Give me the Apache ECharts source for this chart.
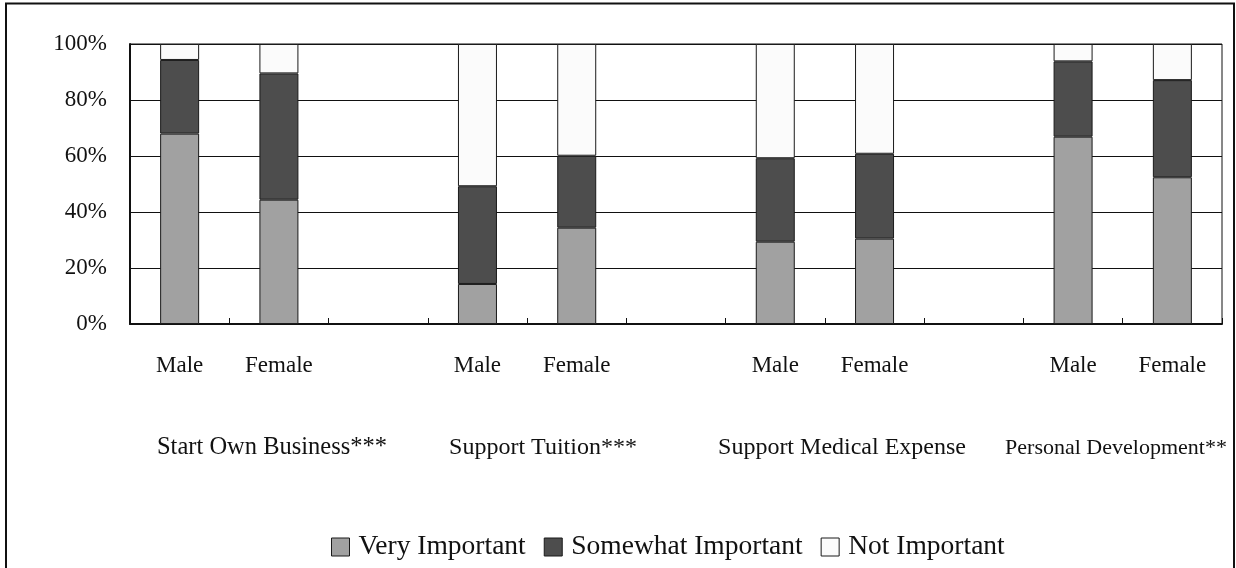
<!DOCTYPE html>
<html>
<head>
<meta charset="utf-8">
<script src="https://cdn.jsdelivr.net/npm/echarts@6/dist/echarts.min.js"></script>
<style>
  html, body { margin: 0; padding: 0; background: #fff; }
  #chart { width: 1236px; height: 568px; }
</style>
</head>
<body>
<div id="chart"></div>
<script>
    // x categories: Male/Female per group, with an empty slot as spacer
    const categories = ['Male', 'Female', '', 'Male', 'Female', '', 'Male', 'Female', '', 'Male', 'Female']
    const groupNames = ['Start Own Business***', 'Support Tuition***', 'Support Medical Expense', 'Personal Development**']
    const seriesNames = ['Very Important', 'Somewhat Important', 'Not Important']

    // percentages
    const veryImportant     = [68.0, 44.4, null, 14.3, 34.4, null, 29.4, 30.5, null, 66.9, 52.4]
    const somewhatImportant = [26.3, 45.1, null, 34.9, 25.7, null, 29.8, 30.3, null, 26.9, 34.7]
    const notImportant      = [5.7, 10.5, null, 50.8, 39.9, null, 40.8, 39.2, null, 6.2, 12.9]

    const yTicks = [0, 20, 40, 60, 80, 100]

    const font = '"Liberation Serif", "Times New Roman", serif'
    const chart = echarts.init(document.getElementById('chart'), null, { renderer: 'canvas' })

    const barStyle = (color) => ({ color: color, borderColor: '#1a1a1a', borderWidth: 1 })

    const groupLabel = (text, cx, size) => ({
        type: 'text',
        x: cx,
        y: 448,
        style: {
            text: text,
            font: size + 'px ' + font,
            fill: '#111',
            align: 'center',
            verticalAlign: 'middle'
        }
    })

    chart.setOption({
        animation: false,
        backgroundColor: '#fff',
        textStyle: { fontFamily: font, color: '#111' },
        grid: {
            left: 130,
            right: 14,
            top: 44,
            bottom: 244,
            show: true,
            borderColor: '#111',
            borderWidth: 1,
            containLabel: false
        },
        legend: {
            left: 331,
            top: 533,
            padding: 0,
            itemWidth: 18,
            itemHeight: 18,
            itemGap: 18,
            icon: 'rect',
            data: seriesNames,
            itemStyle: { borderColor: '#1a1a1a', borderWidth: 1 },
            textStyle: { fontFamily: font, fontSize: 27.5, color: '#111', padding: [0, 0, 0, 4] }
        },
        xAxis: {
            type: 'category',
            data: categories,
            axisLine: { show: true, lineStyle: { color: '#111', width: 2 } },
            axisTick: { show: true, inside: true, length: 6, interval: 0, lineStyle: { color: '#111' } },
            axisLabel: { interval: 0, fontSize: 23, margin: 30, color: '#111', fontFamily: font },
            splitLine: { show: false }
        },
        yAxis: {
            type: 'value',
            min: yTicks[0],
            max: yTicks[yTicks.length - 1],
            interval: 20,
            axisLine: { show: true, lineStyle: { color: '#111', width: 2 } },
            axisTick: { show: false },
            axisLabel: { formatter: '{value}%', fontSize: 23, margin: 23, color: '#111', fontFamily: font },
            splitLine: { show: true, lineStyle: { color: '#111', width: 1 } }
        },
        series: [
            {
                name: seriesNames[0],
                type: 'bar',
                stack: 'total',
                barWidth: 39,
                data: veryImportant,
                itemStyle: barStyle('#a1a1a1')
            },
            {
                name: seriesNames[1],
                type: 'bar',
                stack: 'total',
                barWidth: 39,
                data: somewhatImportant,
                itemStyle: barStyle('#4d4d4d')
            },
            {
                name: seriesNames[2],
                type: 'bar',
                stack: 'total',
                barWidth: 39,
                data: notImportant,
                itemStyle: barStyle('#fbfbfb')
            }
        ],
        graphic: [
            // outer frame (left, top, right; open at the bottom)
            {
                type: 'polyline',
                shape: { points: [[6, 568], [6, 3.5], [1234, 3.5], [1234, 568]] },
                style: { stroke: '#111', lineWidth: 2, fill: null }
            },
            groupLabel(groupNames[0], 272, 24.5),
            groupLabel(groupNames[1], 543, 24),
            groupLabel(groupNames[2], 842, 24),
            groupLabel(groupNames[3], 1116, 22)
        ]
    })
</script>
</body>
</html>
